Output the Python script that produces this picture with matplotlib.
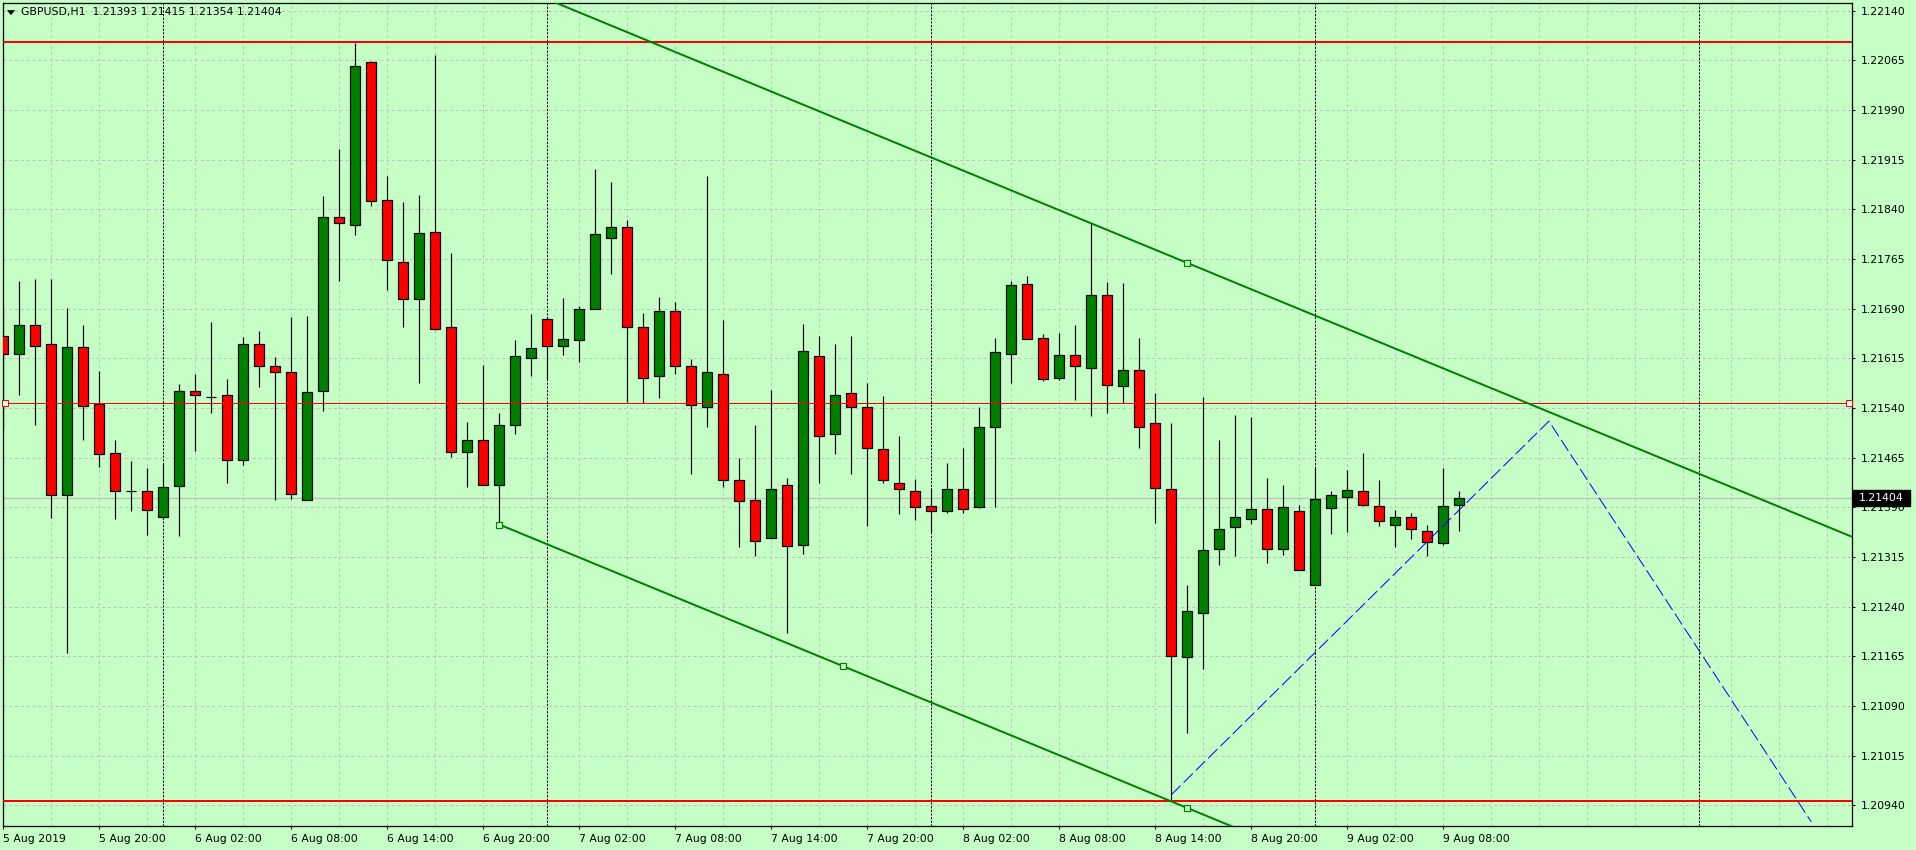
import matplotlib
matplotlib.use("Agg")
import matplotlib.pyplot as plt
from matplotlib.patches import Rectangle, Polygon
import matplotlib.transforms as mtransforms

# ---------------- data ----------------
symbol_title = "GBPUSD,H1"
last_ohlc = ["1.21393", "1.21415", "1.21354", "1.21404"]

opens = [1.21649, 1.21621, 1.21665, 1.21636, 1.21408, 1.21632, 1.21546, 1.21472, 1.21414, 1.21414,
         1.21376, 1.21422, 1.21565, 1.21557, 1.21559, 1.21462, 1.21636, 1.21604, 1.21595, 1.21401,
         1.21565, 1.21829, 1.21817, 1.22062, 1.21854, 1.21761, 1.21704, 1.21805, 1.21662, 1.21473,
         1.21491, 1.21423, 1.21515, 1.21616, 1.21675, 1.21633, 1.21642, 1.21690, 1.21796, 1.21814,
         1.21663, 1.21588, 1.21687, 1.21603, 1.21541, 1.21592, 1.21432, 1.21401, 1.21343, 1.21423,
         1.21333, 1.21618, 1.21500, 1.21562, 1.21541, 1.21478, 1.21426, 1.21414, 1.21392, 1.21384,
         1.21417, 1.21390, 1.21512, 1.21621, 1.21727, 1.21645, 1.21585, 1.21620, 1.21601, 1.21710,
         1.21573, 1.21598, 1.21517, 1.21417, 1.21164, 1.21230, 1.21327, 1.21360, 1.21373, 1.21387,
         1.21327, 1.21384, 1.21272, 1.21389, 1.21405, 1.21414, 1.21392, 1.21363, 1.21375, 1.21354,
         1.21336, 1.21393]
highs = [1.21688, 1.21732, 1.21735, 1.21735, 1.21691, 1.21665, 1.21596, 1.21492, 1.21460, 1.21449,
         1.21455, 1.21576, 1.21591, 1.21670, 1.21584, 1.21647, 1.21656, 1.21617, 1.21677, 1.21679,
         1.21860, 1.21931, 1.22091, 1.22064, 1.21890, 1.21851, 1.21862, 1.22073, 1.21774, 1.21519,
         1.21605, 1.21533, 1.21643, 1.21682, 1.21677, 1.21706, 1.21694, 1.21901, 1.21881, 1.21824,
         1.21683, 1.21708, 1.21700, 1.21614, 1.21890, 1.21673, 1.21464, 1.21514, 1.21567, 1.21434,
         1.21667, 1.21649, 1.21637, 1.21649, 1.21578, 1.21558, 1.21498, 1.21433, 1.21419, 1.21457,
         1.21480, 1.21541, 1.21645, 1.21732, 1.21740, 1.21651, 1.21653, 1.21666, 1.21819, 1.21730,
         1.21728, 1.21645, 1.21562, 1.21518, 1.21273, 1.21556, 1.21491, 1.21530, 1.21526, 1.21435,
         1.21423, 1.21394, 1.21449, 1.21414, 1.21446, 1.21472, 1.21431, 1.21386, 1.21382, 1.21363,
         1.21449, 1.21415]
lows = [1.21509, 1.21559, 1.21514, 1.21374, 1.21170, 1.21491, 1.21451, 1.21372, 1.21385, 1.21348,
        1.21374, 1.21347, 1.21475, 1.21533, 1.21427, 1.21454, 1.21572, 1.21401, 1.21403, 1.21401,
        1.21536, 1.21732, 1.21801, 1.21845, 1.21718, 1.21663, 1.21577, 1.21657, 1.21466, 1.21420,
        1.21423, 1.21365, 1.21501, 1.21588, 1.21583, 1.21620, 1.21610, 1.21690, 1.21743, 1.21549,
        1.21547, 1.21555, 1.21592, 1.21441, 1.21511, 1.21420, 1.21330, 1.21317, 1.21343, 1.21200,
        1.21320, 1.21426, 1.21471, 1.21441, 1.21362, 1.21426, 1.21380, 1.21371, 1.21352, 1.21381,
        1.21381, 1.21389, 1.21390, 1.21577, 1.21644, 1.21580, 1.21582, 1.21552, 1.21528, 1.21533,
        1.21547, 1.21480, 1.21367, 1.20947, 1.21049, 1.21146, 1.21303, 1.21316, 1.21365, 1.21306,
        1.21318, 1.21295, 1.21272, 1.21349, 1.21353, 1.21392, 1.21362, 1.21330, 1.21342, 1.21317,
        1.21333, 1.21354]
closes = [1.21621, 1.21665, 1.21633, 1.21408, 1.21632, 1.21543, 1.21470, 1.21414, 1.21414, 1.21386,
          1.21420, 1.21565, 1.21559, 1.21557, 1.21462, 1.21636, 1.21604, 1.21595, 1.21410, 1.21564,
          1.21828, 1.21820, 1.22056, 1.21853, 1.21764, 1.21704, 1.21804, 1.21660, 1.21473, 1.21491,
          1.21423, 1.21515, 1.21618, 1.21630, 1.21633, 1.21644, 1.21690, 1.21802, 1.21814, 1.21663,
          1.21586, 1.21687, 1.21604, 1.21544, 1.21594, 1.21432, 1.21399, 1.21339, 1.21417, 1.21331,
          1.21626, 1.21497, 1.21559, 1.21541, 1.21479, 1.21432, 1.21417, 1.21390, 1.21384, 1.21417,
          1.21387, 1.21512, 1.21624, 1.21725, 1.21644, 1.21583, 1.21620, 1.21604, 1.21710, 1.21574,
          1.21598, 1.21512, 1.21419, 1.21165, 1.21233, 1.21325, 1.21358, 1.21375, 1.21387, 1.21327,
          1.21390, 1.21295, 1.21402, 1.21408, 1.21416, 1.21393, 1.21369, 1.21375, 1.21358, 1.21337,
          1.21392, 1.21404]

time_label_bars = [0, 6, 12, 18, 24, 30, 36, 42, 48, 54, 60, 66, 72, 78, 84, 90]
time_labels = ["5 Aug 2019", "5 Aug 20:00", "6 Aug 02:00", "6 Aug 08:00", "6 Aug 14:00",
               "6 Aug 20:00", "7 Aug 02:00", "7 Aug 08:00", "7 Aug 14:00", "7 Aug 20:00",
               "8 Aug 02:00", "8 Aug 08:00", "8 Aug 14:00", "8 Aug 20:00", "9 Aug 02:00",
               "9 Aug 08:00"]
day_separator_bars = [10, 34, 58, 82, 106]

price_ticks = [1.20940, 1.21015, 1.21090, 1.21165, 1.21240, 1.21315, 1.21390, 1.21465,
               1.21540, 1.21615, 1.21690, 1.21765, 1.21840, 1.21915, 1.21990, 1.22065, 1.22140]

thick_red_levels = [1.22092, 1.20947]
thin_red_level = 1.21547
bid_price = 1.21404

channel_lower_bars = [31, 74]
channel_lower_prices = [1.21364, 1.20936]
channel_upper_prices = [1.22187, 1.21759]
channel_marker_bars = [31, 52.5, 74]

zigzag_bars = [73, 96.6, 113.0]
zigzag_prices = [1.20956, 1.21520, 1.20915]

# ---------------- style ----------------
BG = "#C6FFC6"
GRID = "#C0C0C0"
BULL = "#008000"
BEAR = "#FF0000"
FONT = "DejaVu Sans"
FS = 7.8
PX = 0.72  # one pixel in points

W, H = 1916, 850
fig = plt.figure(figsize=(W / 100, H / 100), dpi=100, facecolor=BG)
L, R, T, B = 3, 1852, 3, 826
ax = fig.add_axes([L / W, (H - B) / H, (R - L) / W, (B - T) / H])
ax.set_facecolor(BG)

x_left = (L - 3.3) / 16.0
x_right = (R - 3.3) / 16.0
ax.set_xlim(x_left, x_right)
ax.set_ylim(1.209088, 1.221515)

# grid
for p in price_ticks:
    ax.axhline(p, color=GRID, lw=PX, ls=(0, (2.9, 2.9)), zorder=0.5)
gx = 3
while gx < x_right:
    ax.axvline(gx, color=GRID, lw=PX, ls=(0, (2.9, 2.9)), zorder=0.5)
    gx += 3

# day separators
for b in day_separator_bars:
    ax.axvline(b, color="black", lw=PX, ls=(0, (2.2, 1.45)), zorder=1)

# horizontal lines
ax.axhline(bid_price, color="#C0C0C0", lw=PX * 1.3, zorder=1.2)
for lv in thick_red_levels:
    ax.axhline(lv, color="#FF0000", lw=2 * PX, zorder=4)
ax.axhline(thin_red_level, color="#FF0000", lw=PX, zorder=4)
ax.plot([x_left + 0.15, x_right - 0.17], [thin_red_level, thin_red_level], ls="none",
        marker="s", ms=4.5, mfc="white", mec="#FF0000", mew=PX, zorder=6, clip_on=False)

# candles
bw = 10 / 16.0
for i, (o, h, l, c) in enumerate(zip(opens, highs, lows, closes)):
    ax.vlines(i, l, h, color="black", lw=PX * 1.2, zorder=2)
    lo, hi = min(o, c), max(o, c)
    col = BULL if c > o else BEAR
    ax.add_patch(Rectangle((i - bw / 2, lo), bw, hi - lo, facecolor=col,
                           edgecolor="black", lw=PX * 1.2, zorder=3))

# equidistant channel (rays to the right)
slope = (channel_lower_prices[1] - channel_lower_prices[0]) / (channel_lower_bars[1] - channel_lower_bars[0])
x_end = x_right + 2
for prices in (channel_lower_prices, channel_upper_prices):
    y_end = prices[0] + slope * (x_end - channel_lower_bars[0])
    ax.plot([channel_lower_bars[0], x_end], [prices[0], y_end], color=BULL, lw=2 * PX, zorder=5)
mk_y = [channel_lower_prices[0] + slope * (b - channel_lower_bars[0]) for b in channel_marker_bars]
ax.plot(channel_marker_bars, mk_y, ls="none", marker="s", ms=4, mfc=BG, mec=BULL, mew=1.2 * PX, zorder=6)
ax.plot([channel_lower_bars[1]], [channel_upper_prices[1]], ls="none", marker="s", ms=4,
        mfc=BG, mec=BULL, mew=1.2 * PX, zorder=6)

# blue dashed zigzag
ax.plot(zigzag_bars, zigzag_prices, color="#0000FF", lw=PX, ls=(0, (13, 4.3)), zorder=5)

# axes / ticks
for s in ax.spines.values():
    s.set_color("black")
    s.set_linewidth(PX * 1.3)
ax.yaxis.tick_right()
ax.set_yticks(price_ticks)
ax.set_yticklabels(["%.5f" % p for p in price_ticks])
ax.set_xticks(time_label_bars)
ax.set_xticklabels(time_labels)
ax.tick_params(axis="y", direction="out", length=2.5, width=PX, pad=3.5, labelsize=FS,
               labelcolor="black", color="black")
ax.tick_params(axis="x", direction="out", length=2.5, width=PX, pad=3.0, labelsize=FS,
               labelcolor="black", color="black")
for t in ax.get_xticklabels():
    t.set_ha("left")
    t.set_fontfamily(FONT)
for t in ax.get_yticklabels():
    t.set_fontfamily(FONT)

# header
fig.text(21 / W, 1 - 12.5 / H, symbol_title + "  " + " ".join(last_ohlc), ha="left", va="center",
         fontsize=FS, color="black", family=FONT)
tri = Polygon([(7.5 / W, 1 - 10.5 / H), (14.5 / W, 1 - 10.5 / H), (11 / W, 1 - 14.5 / H)],
              closed=True, transform=fig.transFigure, facecolor="black", edgecolor="black", lw=0.5)
fig.patches.append(tri)

# current price label
box_y = 498.3
fig.patches.append(Rectangle((1853 / W, 1 - (box_y + 8) / H), 57 / W, 16 / H,
                             transform=fig.transFigure, facecolor="black", edgecolor="black", zorder=5))
fig.text(1859 / W, 1 - box_y / H, last_ohlc[3], ha="left", va="center", fontsize=FS,
         color="white", family=FONT, zorder=6)

fig.savefig("out.png", dpi=100, facecolor=BG)
